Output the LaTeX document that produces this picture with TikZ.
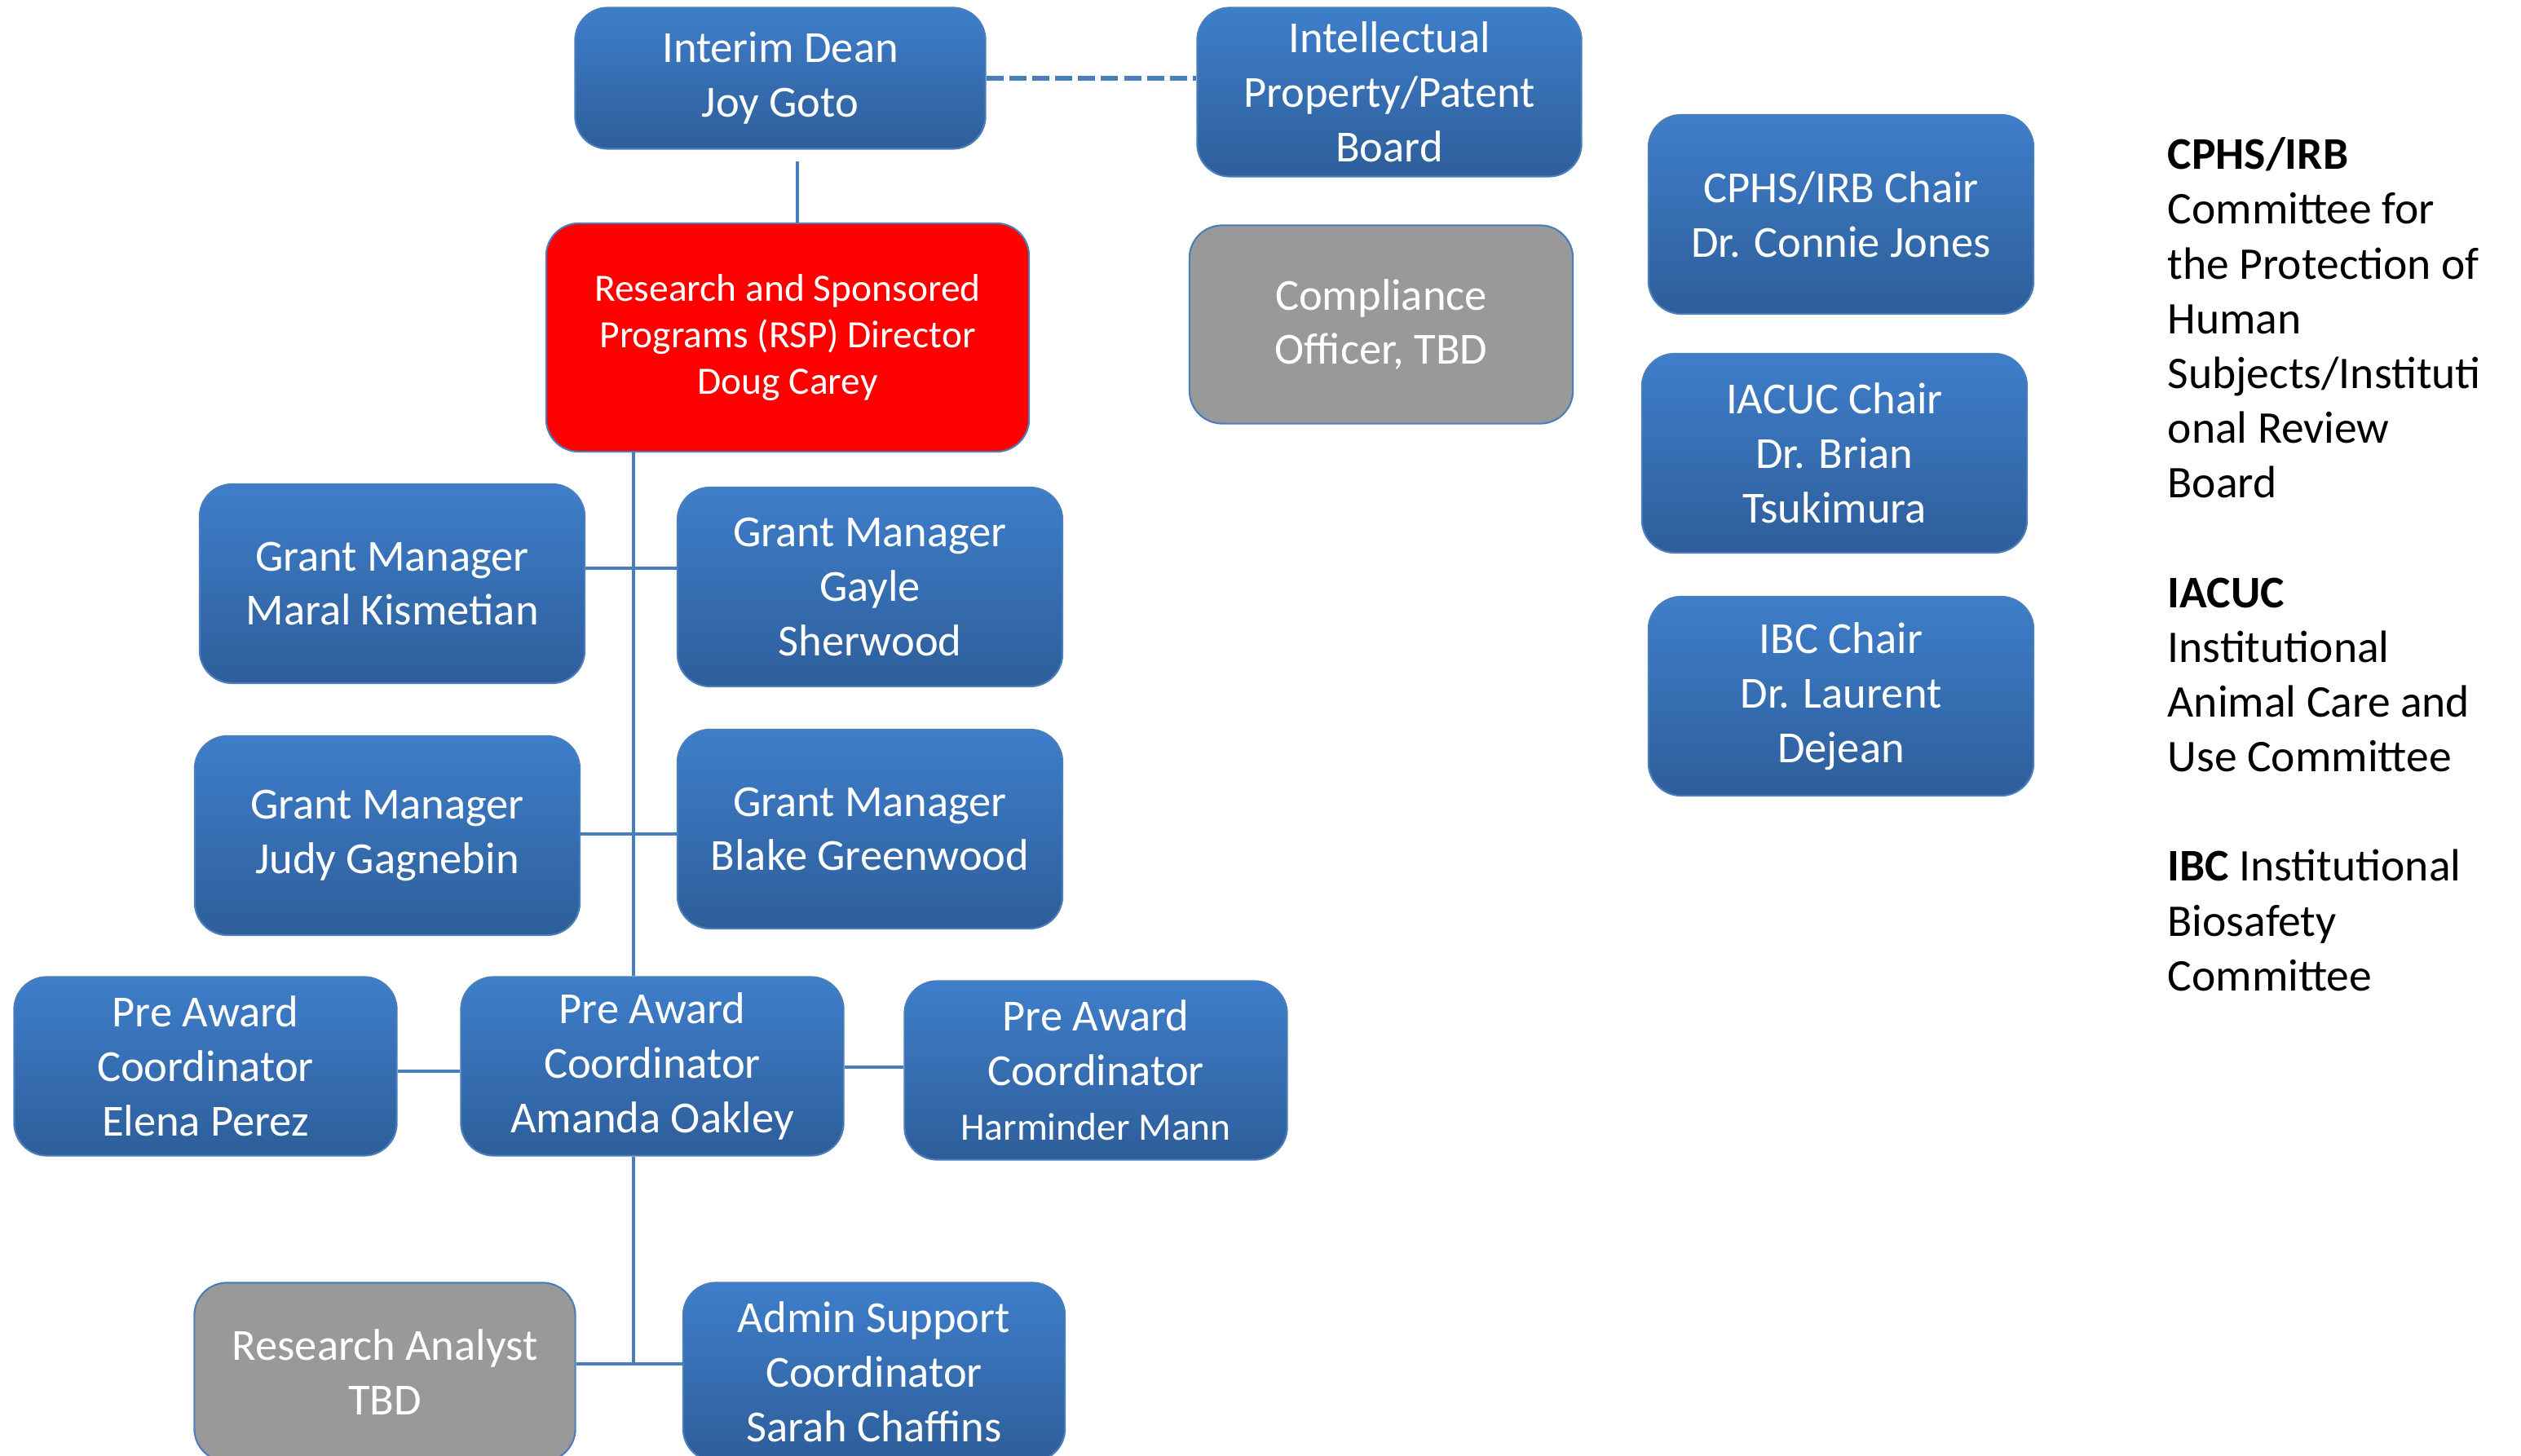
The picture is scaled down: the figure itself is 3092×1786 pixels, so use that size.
\documentclass[tikz,border=0pt]{standalone}
\usepackage{fontspec}
\setmainfont{Carlito}

\definecolor{boxtop}{RGB}{62,126,202}
\definecolor{boxbot}{RGB}{46,94,154}
\definecolor{boxline}{RGB}{74,126,187}
\definecolor{linkblue}{RGB}{74,126,187}
\definecolor{tbdgray}{RGB}{153,153,153}

\begin{document}
\begin{tikzpicture}[x=0.01cm, y=-0.01cm,
		boxbase/.style={rectangle, rounded corners=0.4cm, draw=boxline, line width=0.6pt,
			text=white, align=center, inner sep=2pt,
			minimum width=4.72cm, minimum height=2.44cm,
			font=\fontsize{15.5}{19}\selectfont},
		box/.style={boxbase, top color=boxtop, bottom color=boxbot},
		graybox/.style={boxbase, fill=tbdgray},
		redbox/.style={boxbase, fill=red, font=\fontsize{13.5}{16.3}\selectfont},
		pabox/.style={box, minimum width=4.69cm, minimum height=2.19cm},
		link/.style={draw=linkblue, line width=1.1pt}]
		\useasboundingbox (0,0) rectangle (3092,1786);
		\clip (0,0) rectangle (3092,1786);
		
		% top of the chart
		\node[box, minimum width=5.03cm, minimum height=1.73cm] (dean) at (957,96) {Interim Dean\\Joy Goto};
		\node[box, minimum width=4.71cm, minimum height=2.07cm] (ipb) at (1704,113) {Intellectual\\Property/Patent\\Board};
		\node[redbox, minimum width=5.92cm, minimum height=2.80cm] (rsp) at (966,414) {Research and Sponsored\\Programs (RSP) Director\\Doug Carey};
		\node[graybox, minimum width=4.70cm, minimum height=2.43cm] (compl) at (1694,398) {Compliance\\Officer, TBD};
		
		% committee chairs
		\node[box] (irb) at (2258,263) {CPHS/IRB Chair\\Dr. Connie Jones};
		\node[box] (iacuc) at (2250,556) {IACUC Chair\\Dr. Brian\\Tsukimura};
		\node[box] (ibc) at (2258,854) {IBC Chair\\Dr. Laurent\\Dejean};
		
		% grant managers
		\node[box] (gm1) at (481,716) {Grant Manager\\Maral Kismetian};
		\node[box] (gm2) at (1067,720) {Grant Manager\\Gayle\\Sherwood};
		\node[box] (gm3) at (475,1025) {Grant Manager\\Judy Gagnebin};
		\node[box] (gm4) at (1067,1017) {Grant Manager\\Blake Greenwood};
		
		% pre award
		\node[pabox] (pa1) at (252,1308) {Pre Award\\Coordinator\\Elena Perez};
		\node[pabox] (pa2) at (800,1308) {Pre Award\\Coordinator\\Amanda Oakley};
		\node[pabox] (pa3) at (1344,1313) {Pre Award\\Coordinator\\{\fontsize{13.5}{16}\selectfont Harminder Mann}};
		
		\node[graybox, minimum width=4.67cm, minimum height=2.19cm] (analyst) at (472,1683) {Research Analyst\\TBD};
		\node[pabox, minimum width=4.68cm] (admin) at (1072,1683) {Admin Support\\Coordinator\\Sarah Chaffins};
		
		% legend
		\node[anchor=north west, align=left, inner sep=0pt, font=\fontsize{15.8}{19.1}\selectfont] (legend) at (2658,168)
		{\textbf{CPHS/IRB}\\Committee for\\the Protection of\\Human\\Subjects/Instituti\\onal Review\\Board\\[19.1pt]
			\textbf{IACUC}\\Institutional\\Animal Care and\\Use Committee\\[19.1pt]
			\textbf{IBC} Institutional\\Biosafety\\Committee};
		
		% connectors
		\coordinate (d1) at (978,198);
		\coordinate (trunk) at (777,0);
		\draw[link, line width=1.5pt, dash pattern=on 6pt off 2pt] (dean.east) -- (dean.east -| ipb.west);
		\draw[link] (d1) -- (d1 |- rsp.north);
		\draw[link] (rsp.south -| trunk) -- (pa2.north -| trunk);
		\draw[link] (pa2.south -| trunk) -- (trunk |- 0,1673);
		\foreach \a/\b/\y in {gm1/gm2/697, gm3/gm4/1023, pa1/pa2/1314, pa2/pa3/1309, analyst/admin/1673} {
			\draw[link] (\a.east |- 0,\y) -- (\b.west |- 0,\y);
		};
\end{tikzpicture}
\end{document}
